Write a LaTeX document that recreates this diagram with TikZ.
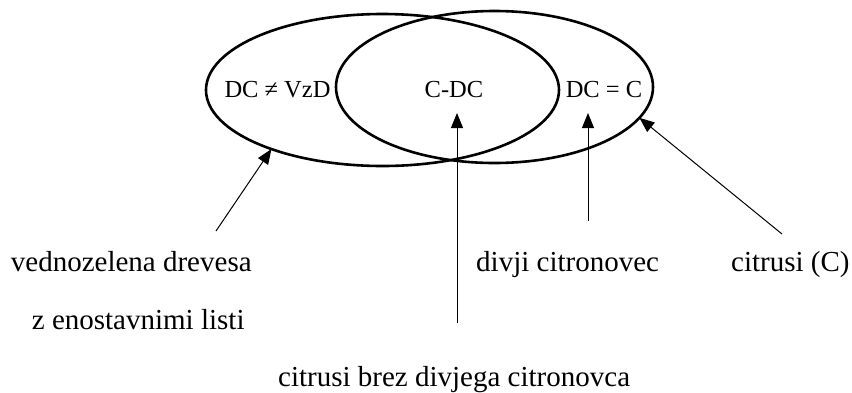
\documentclass[tikz,border=0pt]{standalone}
\usepackage{fontspec}
\setmainfont{Liberation Serif}
\usetikzlibrary{arrows.meta,shapes.geometric}
\begin{document}
\begin{tikzpicture}[x=1pt,y=-1pt,
  setshape/.style={draw,ellipse,line width=2.6pt,inner sep=0pt,outer sep=0pt},
  inlabel/.style={font=\fontsize{24.5}{29}\selectfont,anchor=base,inner sep=0pt},
  outlabel/.style={font=\fontsize{29}{35}\selectfont,anchor=base west,inner sep=0pt},
  arr/.style={-{Triangle[length=15pt,width=12pt]},line width=1pt}]
\useasboundingbox (0,0) rectangle (852,392);
\node[setshape,minimum width=353pt,minimum height=152pt] (L) at (382.5,90) {};
\node[setshape,minimum width=317pt,minimum height=152pt] (R) at (494.5,87) {};
% inner labels
\node[inlabel] (lneq) at (277.5,97.5) {DC ≠ VzD};
\node[inlabel] (lmid) at (454,97.5) {C-DC};
\node[inlabel] (leq) at (604,97.5) {DC = C};
% outer labels
\node[outlabel] (vzd1) at (10.7,271.5) {vednozelena drevesa};
\node[outlabel] (vzd2) at (31.7,329) {z enostavnimi listi};
\node[outlabel] (dc) at (476,271.5) {divji citronovec};
\node[outlabel] (c) at (731,271.5) {citrusi (C)};
\node[outlabel] (cdc) at (278,386.5) {citrusi brez divjega citronovca};
% arrows
\coordinate (t1) at (216,231);
\draw[arr] (t1) -- (L.208.7);
\coordinate (t2) at (457,323);
\coordinate (h2) at (457,113);
\draw[arr] (t2) -- (h2);
\coordinate (t3) at (588,221);
\coordinate (h3) at (588,113);
\draw[arr] (t3) -- (h3);
\coordinate (t4) at (782,234);
\draw[arr] (t4) -- (R.-12.7);
\end{tikzpicture}
\end{document}
